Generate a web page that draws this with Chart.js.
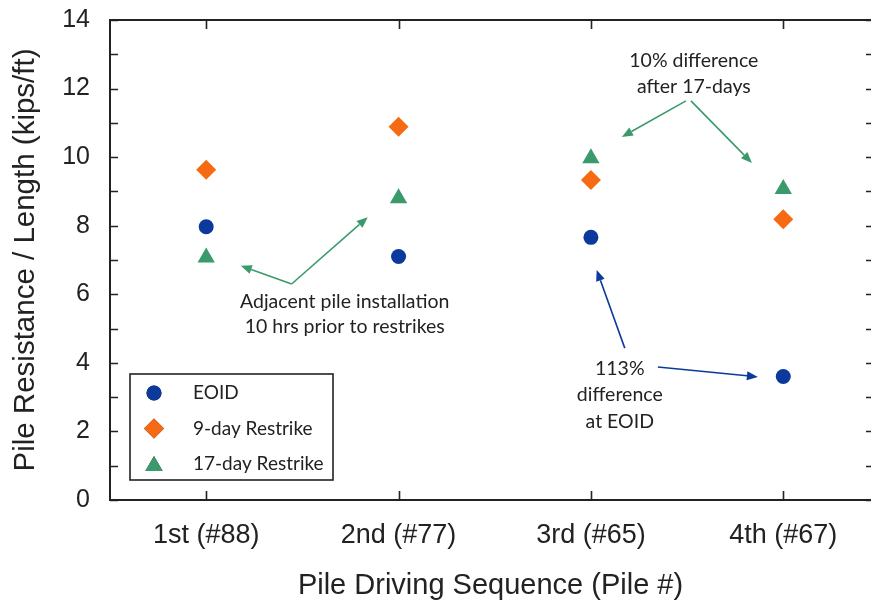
<!DOCTYPE html>
<html>
<head>
<meta charset="utf-8">
<script src="https://cdn.jsdelivr.net/npm/chart.js@4.4.1/dist/chart.umd.min.js"></script>
<style>
  html, body { margin: 0; padding: 0; background: #ffffff; }
  canvas { display: block; }
</style>
</head>
<body>
<canvas id="chart" width="871" height="605"></canvas>
<script>
// Pile driving sequence and measured resistance per unit length (kips/ft)
const categories = ['1st (#88)', '2nd (#77)', '3rd (#65)', '4th (#67)'];
const eoid       = [7.97, 7.10, 7.66, 3.60];
const restrike9  = [9.63, 10.89, 9.33, 8.19];
const restrike17 = [7.07, 8.80, 9.97, 9.07];
const seriesNames = ['EOID', '9-day Restrike', '17-day Restrike'];
const yTickValues = [0, 2, 4, 6, 8, 10, 12, 14];

const BLUE = '#0b3a9c';
const ORANGE = '#f56a12';
const GREEN = '#3a9a6c';
const INK = '#222222';
const SANS = '"Liberation Sans", Arial, sans-serif';
const NOTE_FONT = 'Lato, "Open Sans", sans-serif';

function toPoints(values) {
  return values.map((v, i) => ({ x: i, y: v }));
}

// Callouts placed in data units (x = sequence index, y = kips/ft)
const noteLines = [
  { text: 'Adjacent pile installation', x: 0.72, y: 5.77 },
  { text: '10 hrs prior to restrikes',  x: 0.72, y: 5.05 },
  { text: '10% difference',             x: 2.535, y: 12.80 },
  { text: 'after 17-days',              x: 2.535, y: 12.05 },
  { text: '113%',                       x: 2.15, y: 3.82 },
  { text: 'difference',                 x: 2.15, y: 3.06 },
  { text: 'at EOID',                    x: 2.15, y: 2.27 }
];
const arrows = [
  { from: [0.444, 6.30], to: [0.18, 6.83], color: GREEN },
  { from: [0.444, 6.30], to: [0.84, 8.25], color: GREEN },
  { from: [2.494, 11.64], to: [2.161, 10.59], color: GREEN },
  { from: [2.52, 11.64], to: [2.837, 9.83], color: GREEN },
  { from: [2.176, 4.43], to: [2.03, 6.71], color: BLUE },
  { from: [2.348, 3.88], to: [2.868, 3.59], color: BLUE }
];

const styles = [
  { pointStyle: 'circle',   radius: 7.5, color: BLUE },
  { pointStyle: 'rectRot',  radius: 10,  color: ORANGE },
  { pointStyle: 'triangle', radius: 10,  color: GREEN }
];

function dataset(label, values, st) {
  return {
    label: label,
    data: toPoints(values),
    pointStyle: st.pointStyle,
    pointRadius: st.radius,
    pointHoverRadius: st.radius,
    pointBackgroundColor: st.color,
    pointBorderColor: st.color,
    pointBorderWidth: 0,
    showLine: false
  };
}

// Frame, inward tick marks, callouts and the boxed legend
const decorations = {
  id: 'decorations',
  afterDraw(chart) {
    const ctx = chart.ctx;
    const a = chart.chartArea;
    const xs = chart.scales.x;
    const ys = chart.scales.y;
    ctx.save();

    // frame (right edge falls at the canvas border)
    ctx.strokeStyle = INK;
    ctx.lineWidth = 2;
    ctx.beginPath();
    ctx.moveTo(a.right + 2, a.top);
    ctx.lineTo(a.left, a.top);
    ctx.lineTo(a.left, a.bottom);
    ctx.lineTo(a.right + 2, a.bottom);
    ctx.stroke();

    // tick marks pointing into the plot
    ctx.lineWidth = 1.6;
    ctx.beginPath();
    for (let v = ys.min; v <= ys.max; v += 1) {
      const py = Math.round(ys.getPixelForValue(v)) + 0.5;
      ctx.moveTo(a.left, py); ctx.lineTo(a.left + 8, py);
      ctx.moveTo(a.right, py); ctx.lineTo(a.right - 5, py);
    }
    categories.forEach((c, i) => {
      const px = Math.round(xs.getPixelForValue(i)) + 0.5;
      ctx.moveTo(px, a.bottom); ctx.lineTo(px, a.bottom - 9);
      ctx.moveTo(px, a.top); ctx.lineTo(px, a.top + 9);
    });
    ctx.stroke();

    // callout arrows
    arrows.forEach(ar => {
      const x0 = xs.getPixelForValue(ar.from[0]);
      const y0 = ys.getPixelForValue(ar.from[1]);
      const x1 = xs.getPixelForValue(ar.to[0]);
      const y1 = ys.getPixelForValue(ar.to[1]);
      const ang = Math.atan2(y1 - y0, x1 - x0);
      const head = 11, half = 4.5;
      const bx = x1 - Math.cos(ang) * head;
      const by = y1 - Math.sin(ang) * head;
      ctx.strokeStyle = ar.color;
      ctx.fillStyle = ar.color;
      ctx.lineWidth = 1.6;
      ctx.beginPath();
      ctx.moveTo(x0, y0);
      ctx.lineTo(bx, by);
      ctx.stroke();
      ctx.beginPath();
      ctx.moveTo(x1, y1);
      ctx.lineTo(bx + Math.sin(ang) * half, by - Math.cos(ang) * half);
      ctx.lineTo(bx - Math.sin(ang) * half, by + Math.cos(ang) * half);
      ctx.closePath();
      ctx.fill();
    });

    // callout text
    ctx.fillStyle = INK;
    ctx.font = '19.5px ' + NOTE_FONT;
    ctx.textAlign = 'center';
    ctx.textBaseline = 'middle';
    noteLines.forEach(n => {
      ctx.fillText(n.text, xs.getPixelForValue(n.x), ys.getPixelForValue(n.y));
    });

    // legend box in the lower-left corner of the plot
    const lx = a.left + 20, ly = a.bottom - 126, lw = 203, lh = 106;
    ctx.strokeStyle = INK;
    ctx.lineWidth = 1.6;
    ctx.strokeRect(lx, ly, lw, lh);
    ctx.font = '19px ' + NOTE_FONT;
    ctx.textAlign = 'left';
    ctx.textBaseline = 'middle';
    chart.data.datasets.forEach((ds, i) => {
      const rowY = ly + 19 + i * 35.5;
      Chart.helpers.drawPoint(ctx, {
        pointStyle: ds.pointStyle,
        radius: ds.pointRadius,
        rotation: 0,
        borderWidth: 0
      }, lx + 24, rowY + (ds.pointStyle === 'triangle' ? 2 : 0));
      ctx.fillStyle = ds.pointBackgroundColor;
      ctx.fill();
      ctx.fillStyle = INK;
      ctx.fillText(ds.label, lx + 63, rowY);
    });

    ctx.restore();
  }
};

new Chart(document.getElementById('chart'), {
  type: 'scatter',
  data: {
    datasets: [
      dataset(seriesNames[0], eoid, styles[0]),
      dataset(seriesNames[1], restrike9, styles[1]),
      dataset(seriesNames[2], restrike17, styles[2])
    ]
  },
  options: {
    responsive: false,
    animation: false,
    devicePixelRatio: 1,
    // the plot runs right up to the canvas edge
    layout: { autoPadding: false, padding: { top: 20, right: 0, bottom: 0, left: 0 } },
    plugins: {
      legend: { display: false },
      tooltip: { enabled: false }
    },
    scales: {
      x: {
        type: 'linear',
        min: -0.5,
        max: 3.456,
        afterFit(scale) {
          scale.height = 105;
          scale.paddingLeft = 0;
          scale.paddingRight = 0;
        },
        afterBuildTicks(scale) {
          scale.ticks = categories.map((c, i) => ({ value: i }));
        },
        grid: { display: false, drawTicks: false },
        border: { display: false },
        ticks: {
          padding: 19,
          color: INK,
          font: { family: SANS, size: 27, lineHeight: 1.2 },
          callback: (v) => categories[v] || ''
        },
        title: {
          display: true,
          text: 'Pile Driving Sequence (Pile #)',
          color: INK,
          font: { family: SANS, size: 29, lineHeight: 1.2 },
          padding: { top: 0, bottom: 2 }
        }
      },
      y: {
        type: 'linear',
        min: 0,
        max: 14,
        afterFit(scale) {
          scale.width = 110;
          scale.paddingTop = 0;
          scale.paddingBottom = 0;
        },
        afterBuildTicks(scale) {
          scale.ticks = yTickValues.map(v => ({ value: v }));
        },
        grid: { display: false, drawTicks: false },
        border: { display: false },
        ticks: {
          padding: 20,
          color: INK,
          font: { family: SANS, size: 25 }
        },
        title: {
          display: true,
          text: 'Pile Resistance / Length (kips/ft)',
          color: INK,
          font: { family: SANS, size: 29.5, lineHeight: 1.2 },
          padding: { top: 8, bottom: 0 }
        }
      }
    }
  },
  plugins: [decorations]
});
</script>
</body>
</html>
